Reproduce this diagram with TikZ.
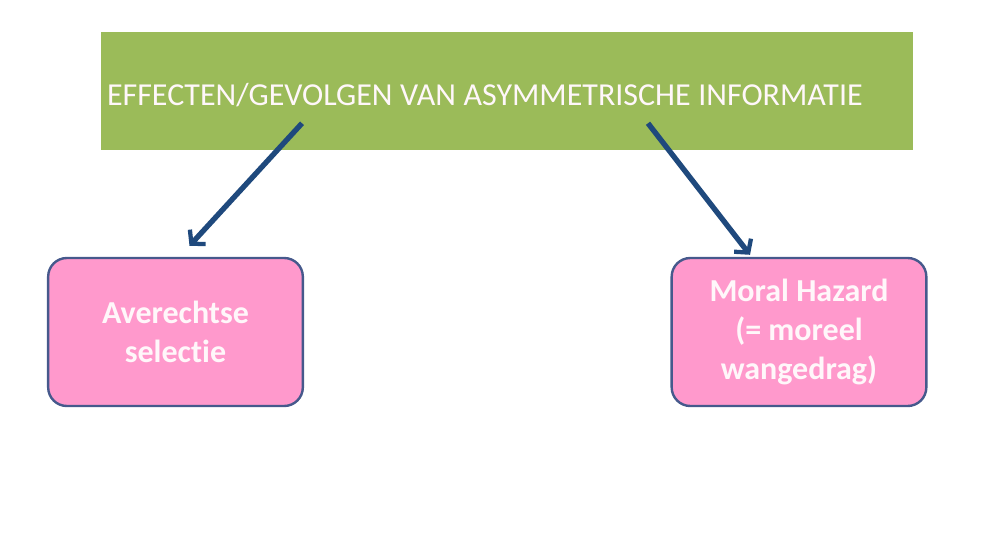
\documentclass[tikz,border=0pt]{standalone}
\usepackage{fontspec}
\setmainfont[Ligatures=NoCommon]{Carlito}
\usetikzlibrary{arrows.meta,calc}
\definecolor{effGreen}{HTML}{9BBB59}
\definecolor{effPink}{HTML}{FF99CC}
\definecolor{effBorder}{HTML}{46598C}
\definecolor{effArrow}{HTML}{1F497D}
\definecolor{effText}{HTML}{FFF7FA}
\begin{document}
\begin{tikzpicture}[x=0.75pt, y=-0.75pt,
    head/.style={rectangle, fill=effGreen, minimum width=609pt, minimum height=88.5pt, text width=600pt, align=left, inner xsep=4.5pt, text height=24pt, text depth=3pt, font=\fontsize{24}{29}\selectfont, text=effText},
    gevolg/.style={rectangle, draw=effBorder, line width=1.8pt, rounded corners=14pt, fill=effPink, minimum width=191pt, minimum height=111pt, align=center, font=\bfseries\fontsize{24}{29}\selectfont, text=effText},
    arr/.style={-{Straight Barb[length=7pt, width=16pt, line width=3.2pt]}, line width=4pt, draw=effArrow}
]
\useasboundingbox (0,0) rectangle (992,540);
\node[head] (eff) at (507,91) {\spaceskip=5.7pt EFFECTEN/GEVOLGEN VAN ASYMMETRISCHE INFORMATIE};
\node[gevolg] (avs) at (175.5,332) {Averechtse\\selectie};
\node[gevolg] (moral) at (799,332) {Moral Hazard\\(= moreel\\wangedrag)};

\draw[arr] ($(eff.south)+(-205,-27)$) -- ($(avs.north)+(14,-11)$);
\draw[arr] ($(eff.south)+(141,-27)$) -- ($(moral.north)+(-49,-2)$);
\end{tikzpicture}
\end{document}
